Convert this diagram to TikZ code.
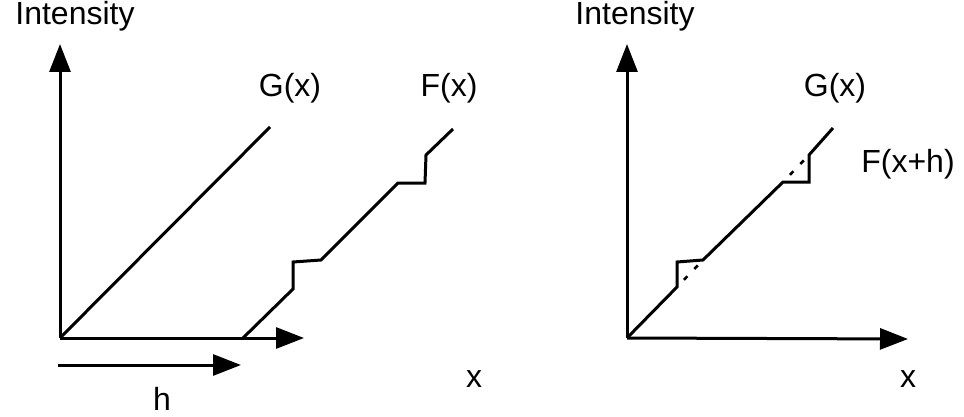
\documentclass[tikz,border=0pt]{standalone}
\usepackage{fontspec}
\setmainfont{Liberation Sans}
\usetikzlibrary{arrows.meta}
\begin{document}
\begin{tikzpicture}[x=1pt,y=-1pt,
  curve/.style={line width=3pt,line join=miter},
  axis/.style={line width=3pt,-{Triangle[length=28pt,width=21pt]}},
  dotseg/.style={line width=2.6pt,dash pattern=on 5pt off 10pt,dash phase=5pt},
  lbl/.style={anchor=base,inner sep=0pt,font=\fontsize{32}{38}\selectfont}]
\useasboundingbox (0,0) rectangle (964,417);
% ---- left panel ----
\coordinate (O1) at (60,338);
\coordinate (Y1) at (60,44);
\coordinate (X1) at (304,338);
\draw[axis] (O1) -- (Y1);
\draw[axis] (O1) -- (X1);
\coordinate (G1) at (270,127);
\draw[curve] (O1) -- (G1);
\coordinate (f0) at (243,338);
\coordinate (f1) at (293,289);
\coordinate (f2) at (293,262);
\coordinate (f3) at (321,260);
\coordinate (f4) at (398,183);
\coordinate (f5) at (425,183);
\coordinate (f6) at (426,155);
\coordinate (f7) at (453,129);
\draw[curve] (f0) -- (f1) -- (f2) -- (f3) -- (f4) -- (f5) -- (f6) -- (f7);
\coordinate (h0) at (58,365);
\coordinate (h1) at (241,365);
\draw[axis] (h0) -- (h1);
\node[lbl] (int1) at (75,25) {Intensity};
\node[lbl] (gl1) at (290,97) {G(x)};
\node[lbl] (fl1) at (449,97) {F(x)};
\node[lbl] (xl1) at (474,387) {x};
\node[lbl] (hl) at (162,410) {h};
% ---- right panel ----
\coordinate (O2) at (627,338);
\coordinate (Y2) at (627,44);
\coordinate (X2) at (908,339);
\draw[axis] (O2) -- (Y2);
\draw[axis] (O2) -- (X2);
\coordinate (g1) at (677,287);
\coordinate (g2) at (703,260);
\coordinate (g3) at (783,182);
\coordinate (g4) at (809,155);
\coordinate (G2) at (833,128);
\draw[curve] (O2) -- (g1) -- (677,262) -- (g2) -- (g3) -- (809,182) -- (g4) -- (G2);
\draw[dotseg] (g1) -- (g2);
\draw[dotseg] (g3) -- (g4);
\node[lbl] (int2) at (635,25) {Intensity};
\node[lbl] (gl2) at (835,97) {G(x)};
\node[lbl] (fl2) at (908,172) {F(x+h)};
\node[lbl] (xl2) at (908,387) {x};
\end{tikzpicture}
\end{document}
